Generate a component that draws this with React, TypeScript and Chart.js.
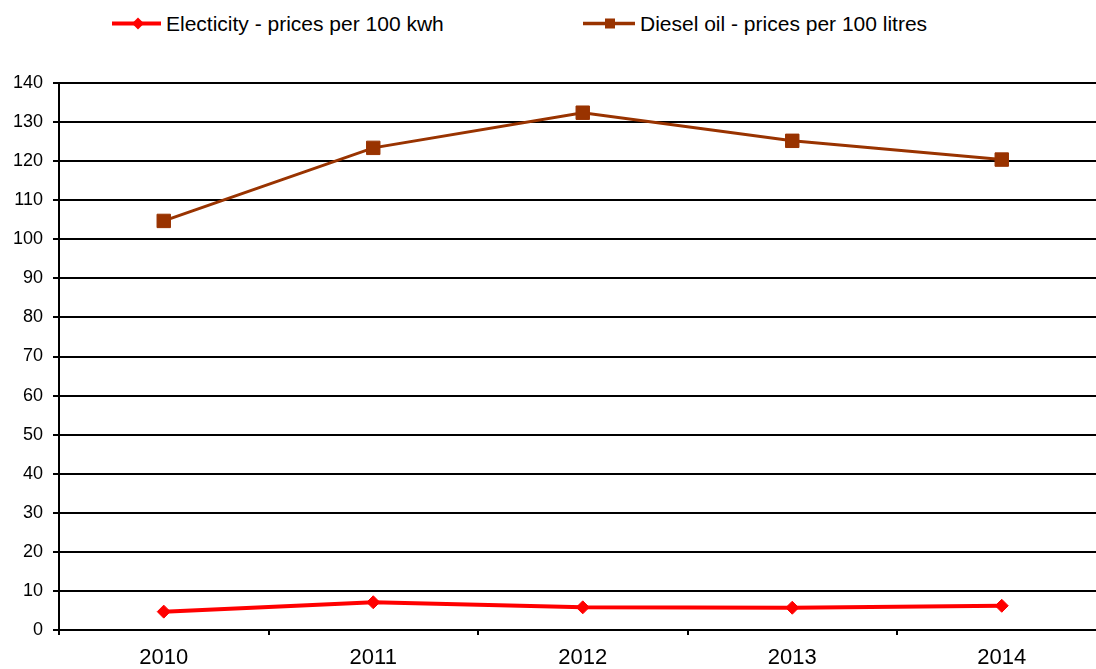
import React, { useEffect, useRef } from "react";
import { Chart, registerables } from "chart.js";

Chart.register(...registerables);

const years = ["2010", "2011", "2012", "2013", "2014"];
const electricity = [4.7, 7.1, 5.8, 5.7, 6.2];
const diesel = [104.7, 123.4, 132.4, 125.2, 120.4];
const electricityLabel = "Electicity - prices per 100 kwh";
const dieselLabel = "Diesel oil - prices per 100 litres";
const yMin = 0;
const yMax = 140;
const yStep = 10;

const RED = "#ff0000";
const BROWN = "#993300";
const FONT = "'Liberation Sans', Arial, sans-serif";

export default function App() {
  const ref = useRef<HTMLCanvasElement | null>(null);

  useEffect(() => {
    document.body.style.margin = "0";
    document.body.style.overflow = "hidden";
    const canvas = ref.current;
    if (!canvas) return;
    const chart = new Chart(canvas, {
      type: "line",
      data: {
        labels: years,
        datasets: [
          {
            label: electricityLabel,
            data: electricity,
            borderColor: RED,
            backgroundColor: RED,
            borderWidth: 4,
            pointStyle: "rectRot",
            pointRadius: 6.5,
            pointBorderWidth: 1,
            pointBackgroundColor: RED,
            pointBorderColor: RED,
            tension: 0,
          },
          {
            label: dieselLabel,
            data: diesel,
            borderColor: BROWN,
            backgroundColor: BROWN,
            borderWidth: 3,
            pointStyle: "rect",
            pointRadius: 9.5,
            pointBorderWidth: 1,
            pointBackgroundColor: BROWN,
            pointBorderColor: BROWN,
            tension: 0,
          },
        ],
      },
      options: {
        responsive: false,
        animation: false,
        devicePixelRatio: 1,
        layout: { padding: { top: 83, right: 3, bottom: 0, left: 0 } },
        plugins: {
          legend: { display: false },
          tooltip: { enabled: false },
          title: { display: false },
        },
        scales: {
          x: {
            type: "category",
            offset: true,
            grid: {
              display: true,
              offset: true,
              drawOnChartArea: false,
              drawTicks: true,
              tickLength: 5,
              color: "#000",
              lineWidth: 2,
            },
            border: { display: true, color: "#000", width: 2 },
            ticks: {
              color: "#000",
              font: { family: FONT, size: 22 },
              padding: 10,
              maxRotation: 0,
              autoSkip: false,
            },
            afterFit: (scale: any) => {
              scale.height = 39;
            },
          },
          y: {
            min: yMin,
            max: yMax,
            grid: {
              color: "#000",
              lineWidth: 2,
              drawTicks: true,
              tickLength: 6,
            },
            border: { display: true, color: "#000", width: 2 },
            ticks: {
              stepSize: yStep,
              color: "#000",
              font: { family: FONT, size: 18 },
              padding: 10,
            },
            afterFit: (scale: any) => {
              scale.width = 59;
            },
          },
        },
      },
    });
    return () => chart.destroy();
  }, []);

  const legendText: React.CSSProperties = {
    position: "absolute",
    top: 12,
    fontFamily: FONT,
    fontSize: 21,
    lineHeight: "24px",
    color: "#000",
    whiteSpace: "nowrap",
  };

  return (
    <div
      style={{
        position: "relative",
        width: 1096,
        height: 669,
        overflow: "hidden",
        background: "#fff",
      }}
    >
      <svg
        width={1096}
        height={50}
        style={{ position: "absolute", left: 0, top: 0 }}
      >
        <line x1={112} y1={23.5} x2={161} y2={23.5} stroke={RED} strokeWidth={4} />
        <polygon
          points="138,17.5 144,23.5 138,29.5 132,23.5"
          fill={RED}
        />
        <line x1={583} y1={23.5} x2={635} y2={23.5} stroke={BROWN} strokeWidth={3.3} />
        <rect x={605} y={18.5} width={10} height={10} fill={BROWN} />
      </svg>
      <div style={{ ...legendText, left: 166 }}>{electricityLabel}</div>
      <div style={{ ...legendText, left: 640 }}>{dieselLabel}</div>
      <canvas
        ref={ref}
        width={1117}
        height={669}
        style={{ position: "absolute", left: 0, top: 0, display: "block" }}
      />
    </div>
  );
}
